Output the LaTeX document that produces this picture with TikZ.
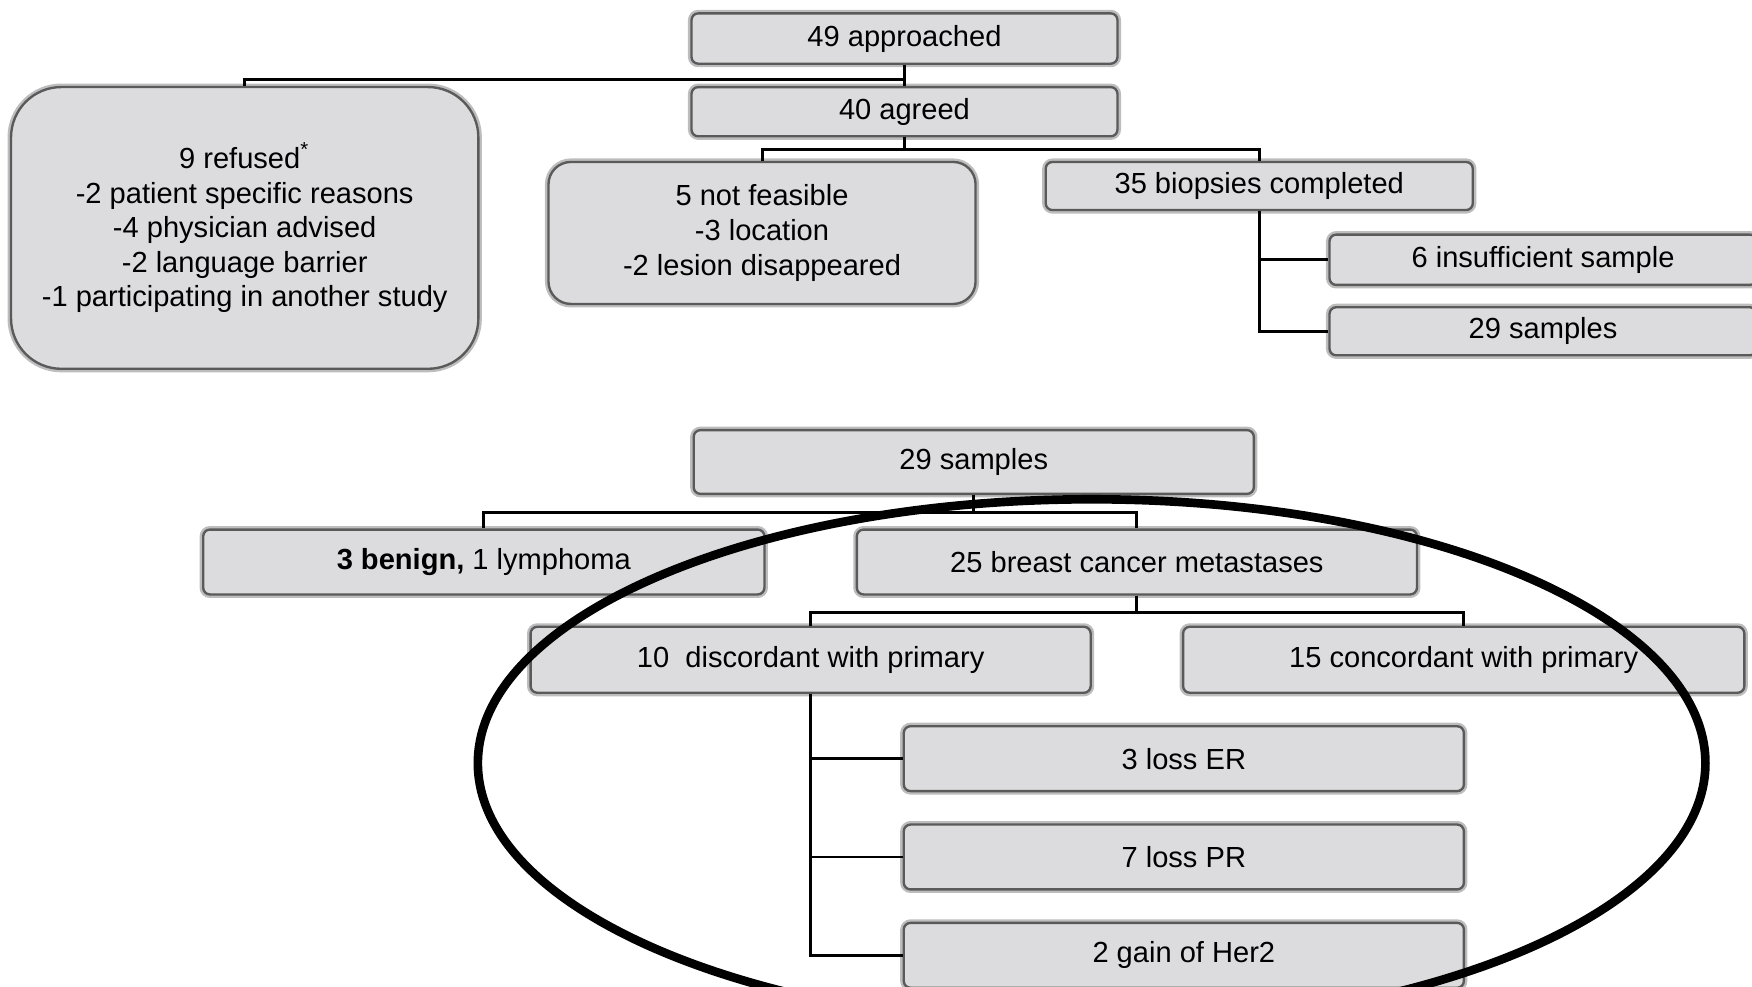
\documentclass[tikz,border=0pt]{standalone}
\usepackage{fontspec}
\setmainfont{Liberation Sans}
\definecolor{boxfill}{HTML}{DCDCDE}
\definecolor{boxline}{HTML}{5A5A5A}
\definecolor{boxhalo}{HTML}{BDBDBD}
\begin{document}
\begin{tikzpicture}[x=0.01cm,y=-0.01cm,
  box/.style={draw=boxline, fill=boxfill, line width=0.6pt, rounded corners=0.06cm,
    inner sep=0pt, align=center, font=\fontsize{7.4}{8.8}\selectfont,
    preaction={draw=boxhalo, line width=1.8pt}},
  conn/.style={draw=black, line width=0.75pt},
  ring/.style={draw=black, line width=2.2pt}
]
\useasboundingbox (0,0) rectangle (1568,883);
\clip (0,0) rectangle (1568,883);

% top flow
\node[box, minimum width=3.81cm, minimum height=0.45cm] (ap) at (809.5,34.5) {49 approached};
\node[box, minimum width=3.81cm, minimum height=0.44cm] (ag) at (809.5,100) {40 agreed};
\node[box, rounded corners=0.45cm, minimum width=4.18cm, minimum height=2.52cm] (ref) at (219,204)
  {9 refused\textsuperscript{*}\\-2 patient specific reasons\\-4 physician advised\\-2 language barrier\\-1 participating in another study};
\node[box, rounded corners=0.2cm, minimum width=3.82cm, minimum height=1.27cm] (nf) at (682,208.5)
  {5 not feasible\\-3 location\\-2 lesion disappeared};
\node[box, minimum width=3.82cm, minimum height=0.43cm] (bio) at (1127,166.5) {35 biopsies completed};
\node[box, minimum width=3.82cm, minimum height=0.45cm] (ins) at (1381,232.5) {6 insufficient sample};
\node[box, minimum width=3.82cm, minimum height=0.43cm] (sa) at (1381,296.5) {29 samples};

\draw[conn] (ap.south) -- (ag.north);
\draw[conn] (ap.south) -- ++(0,13) -| (ref.north);
\draw[conn] (ag.south) -- ++(0,11) -| (nf.north);
\draw[conn] (ag.south) -- ++(0,11) -| (bio.north);
\draw[conn] (bio.south) |- (ins.west);
\draw[conn] (bio.south) |- (sa.west);

% bottom flow
\node[box, minimum width=5.01cm, minimum height=0.57cm] (sb) at (871.5,413.5) {29 samples};
\node[box, minimum width=5.02cm, minimum height=0.58cm] (ben) at (433,503) {\textbf{3 benign,} 1 lymphoma};
\node[box, minimum width=5.01cm, minimum height=0.58cm] (bcm) at (1017.5,503) {25 breast cancer metastases};
\node[box, minimum width=5.01cm, minimum height=0.59cm] (dis) at (725.5,590.5) {10\ \ discordant with primary};
\node[box, minimum width=5.02cm, minimum height=0.59cm] (con) at (1310,590.5) {15 concordant with primary};
\node[box, minimum width=5.01cm, minimum height=0.58cm] (er) at (1059.5,679) {3 loss ER};
\node[box, minimum width=5.01cm, minimum height=0.58cm] (pr) at (1059.5,767) {7 loss PR};
\node[box, minimum width=5.01cm, minimum height=0.58cm] (her) at (1059.5,855) {2 gain of Her2};

\draw[conn] (sb.south) -- ++(0,16) -| (ben.north);
\draw[conn] (sb.south) -- ++(0,16) -| (bcm.north);
\draw[conn] (bcm.south) -- ++(0,15) -| (dis.north);
\draw[conn] (bcm.south) -- ++(0,15) -| (con.north);
\draw[conn] (dis.south) |- (er.west);
\draw[conn] (dis.south) |- (pr.west);
\draw[conn] (dis.south) |- (her.west);

\draw[ring] (977,683) ellipse [x radius=5.49cm, y radius=2.36cm];
\end{tikzpicture}
\end{document}
